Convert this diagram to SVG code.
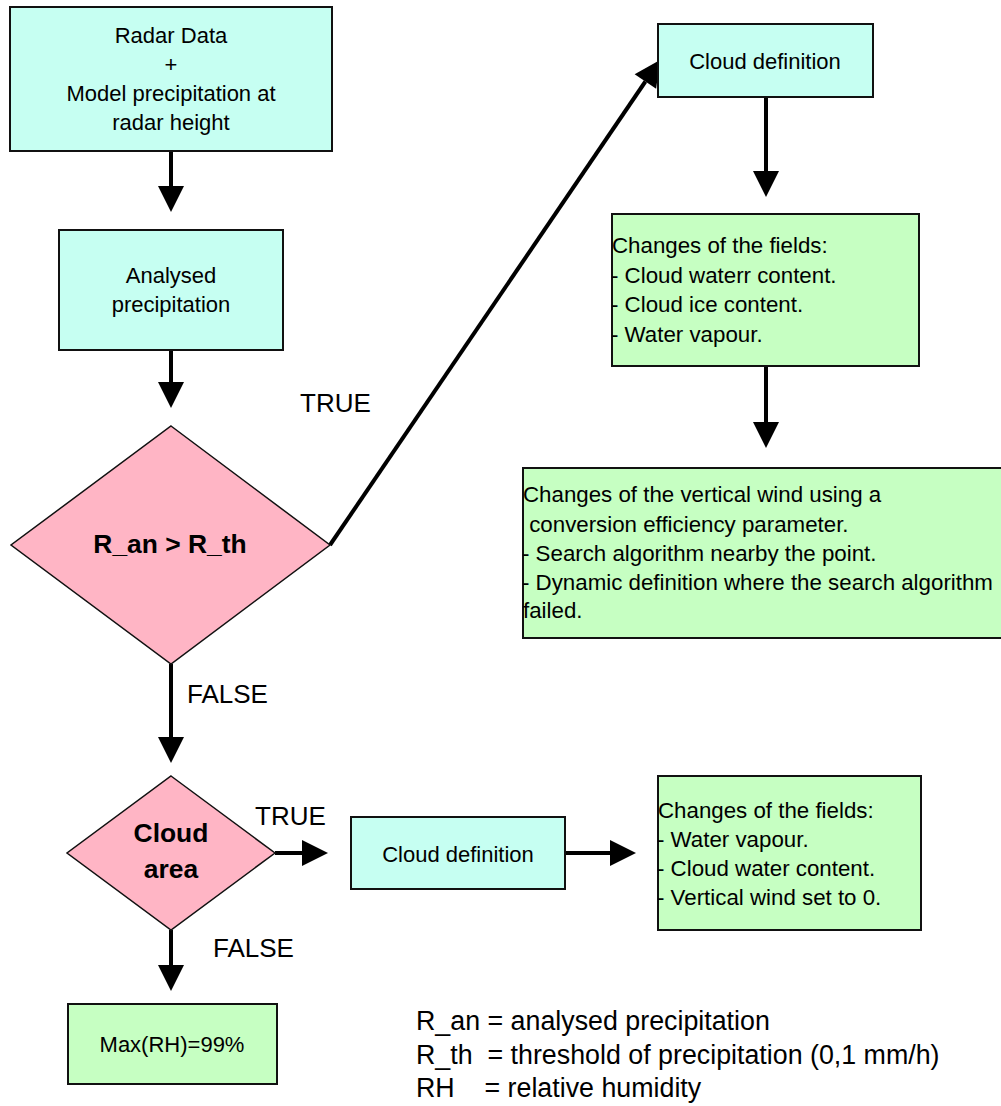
<svg xmlns="http://www.w3.org/2000/svg" width="1001" height="1106" viewBox="0 0 1001 1106">
<style>
  text { font-family: "Liberation Sans", Arial, sans-serif; fill: #000; }
  .box { stroke: #111; stroke-width: 2; }
  .cyan { fill: #c6fff2; }
  .green { fill: #c6ffc2; }
  .pink { fill: #ffb5c5; stroke: #111; stroke-width: 1.5; }
  .t22 { font-size: 22px; }
  .tl { font-size: 22.3px; }
  .mid { text-anchor: middle; }
  .bold { font-size: 26.4px; font-weight: bold; text-anchor: middle; }
  .lbl { font-size: 26px; }
  .leg { font-size: 26.8px; white-space: pre; }
  .conn { stroke: #000; stroke-width: 4; fill: none; marker-end: url(#ah); }
</style>
<defs>
  <marker id="ah" markerUnits="userSpaceOnUse" markerWidth="26" markerHeight="26" refX="0" refY="13" orient="auto" overflow="visible">
    <path d="M0,0 L26,13 L0,26 Z" fill="#000"/>
  </marker>
</defs>
<rect width="1001" height="1106" fill="#fff"/>

<g id="connectors">
  <line class="conn" x1="171" y1="151" x2="171" y2="186"/>
  <line class="conn" x1="171" y1="350" x2="171" y2="382"/>
  <line class="conn" x1="330" y1="545" x2="645.4" y2="81.5"/>
  <line class="conn" x1="766" y1="97" x2="766" y2="171"/>
  <line class="conn" x1="766" y1="366" x2="766" y2="422"/>
  <line class="conn" x1="171" y1="664" x2="171" y2="737"/>
  <line class="conn" x1="275" y1="853" x2="302" y2="853"/>
  <line class="conn" x1="565" y1="853" x2="610" y2="853"/>
  <line class="conn" x1="171" y1="930" x2="171" y2="965"/>
  <text class="lbl" x="300" y="412">TRUE</text>
  <text class="lbl" x="187" y="703">FALSE</text>
  <text class="lbl" x="255" y="825">TRUE</text>
  <text class="lbl" x="213" y="957">FALSE</text>
</g>

<g id="radar-data">
  <rect class="box cyan" x="10" y="7" width="322" height="144"/>
  <text class="t22 mid" x="171" y="43">Radar Data</text>
  <text class="t22 mid" x="171" y="72">+</text>
  <text class="t22 mid" x="171" y="101">Model precipitation at</text>
  <text class="t22 mid" x="171" y="130">radar height</text>
</g>

<g id="analysed-precipitation">
  <rect class="box cyan" x="59" y="230" width="224" height="120"/>
  <text class="t22 mid" x="171" y="283">Analysed</text>
  <text class="t22 mid" x="171" y="312">precipitation</text>
</g>

<g id="decision-ran-rth">
  <polygon class="pink" points="171,426 330,545 171,664 11,545"/>
  <text class="bold" x="170" y="553">R_an &gt; R_th</text>
</g>

<g id="cloud-definition-top">
  <rect class="box cyan" x="658" y="24" width="215" height="73"/>
  <text class="t22 mid" x="765" y="69">Cloud definition</text>
</g>

<g id="changes-fields-top">
  <rect class="box green" x="612" y="214" width="307" height="152"/>
  <text class="tl" x="612" y="253">Changes of the fields:</text>
  <text class="tl" x="611" y="283" xml:space="preserve">- Cloud waterr content.</text>
  <text class="tl" x="611" y="312" xml:space="preserve">- Cloud ice content.</text>
  <text class="tl" x="611" y="342" xml:space="preserve">- Water vapour.</text>
</g>

<g id="vertical-wind">
  <rect class="box green" x="523" y="468" width="479" height="170"/>
  <text class="tl" x="523" y="502">Changes of the vertical wind using a</text>
  <text class="tl" x="523" y="532" xml:space="preserve" style="white-space:pre"> conversion efficiency parameter.</text>
  <text class="tl" x="522" y="561" xml:space="preserve">- Search algorithm nearby the point.</text>
  <text class="tl" x="522" y="590" xml:space="preserve">- Dynamic definition where the search algorithm</text>
  <text class="tl" x="523" y="618">failed.</text>
</g>

<g id="decision-cloud-area">
  <polygon class="pink" points="171,776 275,853 171,930 67,853"/>
  <text class="bold" x="171" y="842">Cloud</text>
  <text class="bold" x="171" y="878">area</text>
</g>

<g id="cloud-definition-bottom">
  <rect class="box cyan" x="351" y="817" width="214" height="72"/>
  <text class="t22 mid" x="458" y="862">Cloud definition</text>
</g>

<g id="changes-fields-bottom">
  <rect class="box green" x="658" y="776" width="263" height="154"/>
  <text class="tl" x="658" y="818">Changes of the fields:</text>
  <text class="tl" x="657" y="847" xml:space="preserve">- Water vapour.</text>
  <text class="tl" x="657" y="876" xml:space="preserve">- Cloud water content.</text>
  <text class="tl" x="657" y="905" xml:space="preserve">- Vertical wind set to 0.</text>
</g>

<g id="max-rh">
  <rect class="box green" x="68" y="1004" width="209" height="80"/>
  <text class="t22 mid" x="172" y="1052">Max(RH)=99%</text>
</g>

<g id="legend">
  <text class="leg" x="416" y="1030" xml:space="preserve">R_an = analysed precipitation</text>
  <text class="leg" x="416" y="1064" xml:space="preserve">R_th  = threshold of precipitation (0,1 mm/h)</text>
  <text class="leg" x="416" y="1097" xml:space="preserve">RH    = relative humidity</text>
</g>
</svg>
